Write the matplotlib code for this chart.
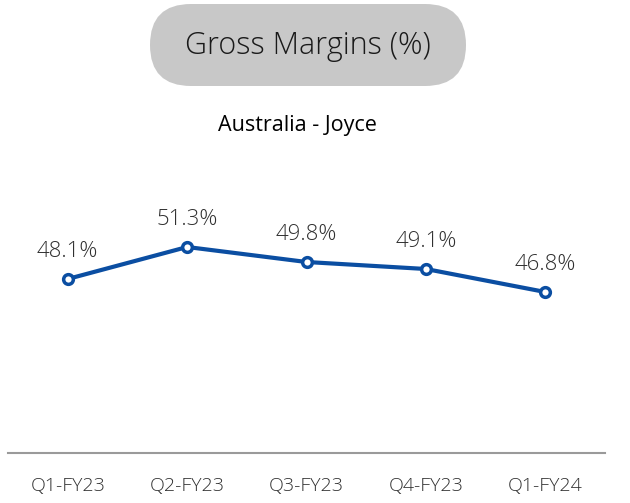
import matplotlib.pyplot as plt
from matplotlib.patches import FancyBboxPatch

quarters = ["Q1-FY23", "Q2-FY23", "Q3-FY23", "Q4-FY23", "Q1-FY24"]
margins = [48.1, 51.3, 49.8, 49.1, 46.8]

plt.rcParams['font.family'] = ['Open Sans', 'DejaVu Sans']

LINE_BLUE = "#0B4EA2"
TEXT_GREY = "#303030"

fig = plt.figure(figsize=(6.3, 5.03), dpi=100)

# Background axes in pixel units, used for the title pill
bg = fig.add_axes([0, 0, 1, 1])
bg.set_xlim(0, 630)
bg.set_ylim(503, 0)
bg.axis("off")
pill = FancyBboxPatch((150, 4), 316, 82, boxstyle="round,pad=0,rounding_size=41",
                      facecolor="#C8C8C8", edgecolor="none")
bg.add_patch(pill)
bg.text(308, 46, "Gross Margins (%)", ha="center", va="center",
        fontsize=22, color="#1A1A1A", fontweight="light")
bg.text(297, 125, "Australia - Joyce", ha="center", va="center",
        fontsize=15.5, color="black")

ax = fig.add_axes([8 / 630, 50 / 503, 597 / 630, 293 / 503])
ax.patch.set_alpha(0)

x = list(range(len(quarters)))
ax.plot(x, margins, color=LINE_BLUE, lw=3, marker="o", ms=7,
        mfc="white", mec=LINE_BLUE, mew=2.5, zorder=3)

# Data labels above each point
for xi, v in zip(x, margins):
    ax.annotate(f"{v:.1f}%", (xi, v), xytext=(0, 12), textcoords="offset points",
                ha="center", va="bottom", fontsize=16, color=TEXT_GREY,
                fontweight="light")

ax.set_xlim(-0.5, len(quarters) - 0.5)
ax.set_ylim(30.7, 60)
ax.set_xticks(x)
ax.set_xticklabels(quarters, fontsize=14, color=TEXT_GREY, fontweight="light")
ax.tick_params(axis="x", length=0, pad=17)
ax.set_yticks([])
for side in ["top", "left", "right"]:
    ax.spines[side].set_visible(False)
ax.spines["bottom"].set_color("#9A9A9A")
ax.spines["bottom"].set_linewidth(1.5)

fig.savefig("out.png", dpi=100)
